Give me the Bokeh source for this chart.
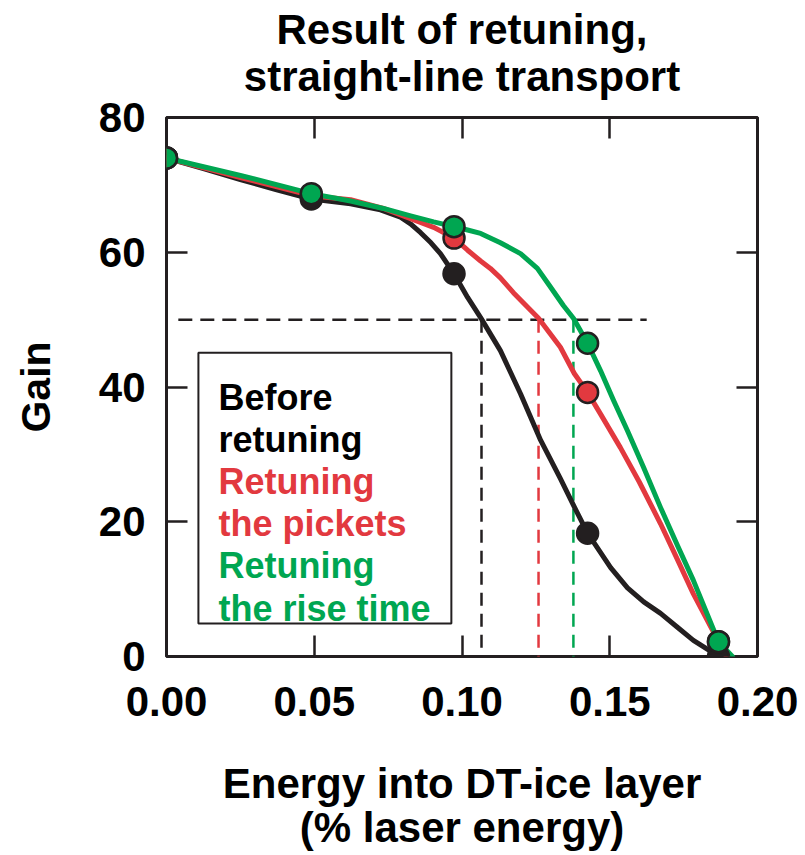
from bokeh.plotting import figure
from bokeh.models import (LinearAxis, FixedTicker, Label, BoxAnnotation, Range1d,
                          NumeralTickFormatter)
from bokeh.embed import file_html
from bokeh.resources import INLINE

# ---------------- data ----------------
energy_pts = [0.0, 0.049, 0.0973, 0.1425, 0.1868]
gain_before = [74.0, 67.9, 56.8, 18.3, 0.0]
gain_pickets = [74.0, 68.4, 62.1, 39.2, 2.2]
gain_risetime = [74.0, 68.7, 63.8, 46.5, 2.2]

# smooth curves
before_curve_x = [0.0, 0.0125, 0.025, 0.037, 0.049, 0.0623, 0.0724, 0.0792, 0.0826,
                  0.0860, 0.0895, 0.0927, 0.0973, 0.1019, 0.1063, 0.1130, 0.1198,
                  0.1266, 0.1333, 0.1380, 0.1425, 0.1503, 0.1560, 0.1615, 0.1672,
                  0.1730, 0.1783, 0.1830, 0.1868]
before_curve_y = [74.0, 72.4, 70.8, 69.3, 67.9, 67.2, 66.3, 65.2, 64.2,
                  62.9, 61.4, 59.8, 56.8, 53.3, 50.3, 45.4, 39.0,
                  32.1, 26.4, 22.2, 18.3, 13.2, 10.2, 8.1, 6.4,
                  4.3, 2.4, 1.1, 0.0]

pickets_curve_x = [0.0, 0.025, 0.049, 0.0623, 0.0734, 0.0826, 0.0904, 0.0973, 0.1019,
                   0.1063, 0.1096, 0.1130, 0.1174, 0.1259, 0.1333, 0.1380, 0.1425,
                   0.1470, 0.1536, 0.1600, 0.1672, 0.1730, 0.1783, 0.1868, 0.1895]
pickets_curve_y = [74.0, 71.1, 68.4, 67.8, 66.5, 65.0, 63.7, 62.1, 60.3,
                   58.7, 57.6, 56.2, 54.0, 50.2, 45.9, 42.0, 39.2,
                   35.9, 31.0, 25.9, 19.7, 14.3, 9.3, 2.2, 0.0]

risetime_curve_x = [0.0, 0.025, 0.049, 0.0623, 0.0734, 0.0826, 0.0904, 0.0973, 0.1019,
                    0.1063, 0.1130, 0.1198, 0.1255, 0.1300, 0.1343, 0.1377, 0.1425,
                    0.1469, 0.1513, 0.1560, 0.1615, 0.1672, 0.1730, 0.1783, 0.1868,
                    0.1915]
risetime_curve_y = [74.0, 71.4, 68.7, 67.6, 66.5, 65.4, 64.5, 63.8, 63.3,
                    62.8, 61.4, 59.8, 57.6, 54.8, 52.1, 50.2, 46.5,
                    42.4, 38.0, 33.5, 28.0, 22.1, 16.4, 11.3, 2.2,
                    0.0]

gain_threshold = 50
threshold_span = [0.004, 0.1625]
threshold_energy = [0.1066, 0.1259, 0.1377]   # before, pickets, rise time

x_ticks = [0.0, 0.05, 0.10, 0.15, 0.20]
y_ticks = [0, 20, 40, 60, 80]

title_lines = ["Result of retuning,", "straight-line transport"]
xlabel_lines = ["Energy into DT-ice layer", "(% laser energy)"]
ylabel = "Gain"
legend_lines = ["Before", "retuning", "Retuning", "the pickets", "Retuning", "the rise time"]

# ---------------- styling ----------------
BLACK = "#231f20"
RED = "#e2393f"
GREEN = "#00a651"
FONT = "Liberation Sans"

p = figure(frame_width=591, frame_height=539,
           x_range=Range1d(0, 0.2), y_range=Range1d(0, 80),
           output_backend="svg", toolbar_location=None, title_location=None,
           min_border_left=166, min_border_right=48,
           min_border_top=117, min_border_bottom=196,
           background_fill_color="white", border_fill_color="white")

p.grid.visible = False
p.outline_line_color = BLACK
p.outline_line_width = 3

bottom = p.below[0]
left = p.left[0]
bottom.ticker = FixedTicker(ticks=x_ticks)
left.ticker = FixedTicker(ticks=y_ticks)
bottom.formatter = NumeralTickFormatter(format="0.00")

top = LinearAxis(ticker=FixedTicker(ticks=x_ticks))
right = LinearAxis(ticker=FixedTicker(ticks=y_ticks))
p.add_layout(top, "above")
p.add_layout(right, "right")

for ax in [bottom, left, top, right]:
    ax.axis_line_color = None
    ax.major_tick_in = 21
    ax.major_tick_out = 0
    ax.major_tick_line_width = 2.5
    ax.major_tick_line_color = BLACK
    ax.minor_tick_line_color = None
    ax.major_label_text_font = FONT
    ax.major_label_text_font_style = "bold"
    ax.major_label_text_font_size = "42px"
    ax.major_label_text_color = "black"
    ax.axis_label_text_font = FONT
    ax.axis_label_text_font_style = "bold"
    ax.axis_label_text_color = "black"

for ax in [top, right]:
    ax.major_label_text_color = None
    ax.major_label_text_font_size = "0px"
    ax.major_label_standoff = 0

bottom.major_label_standoff = 30
left.major_label_standoff = 21

# y axis label
left.axis_label = ylabel
left.axis_label_text_font_size = "41px"
left.axis_label_standoff = 37

# title as the label of the top axis
top.axis_label = "\n".join(title_lines)
top.axis_label_text_font_size = "42px"
top.axis_label_text_line_height = 0.98
top.axis_label_standoff = 18

# x axis label (two lines)
bottom.axis_label = "\n".join(xlabel_lines)
bottom.axis_label_text_font_size = "42px"
bottom.axis_label_text_line_height = 0.95
bottom.axis_label_standoff = 41

# dashed guide lines
p.line(threshold_span, [gain_threshold, gain_threshold], line_color=BLACK,
       line_width=2.5, line_dash="14 8")
for xe, col in zip(threshold_energy, [BLACK, RED, GREEN]):
    p.line([xe, xe], [gain_threshold, -2], line_color=col, line_width=2.5,
           line_dash="13 8")

# curves
for cx, cy, col in [(before_curve_x, before_curve_y, BLACK),
                    (pickets_curve_x, pickets_curve_y, RED),
                    (risetime_curve_x, risetime_curve_y, GREEN)]:
    p.line(cx, cy, line_color=col, line_width=5, line_join="round", line_cap="round")

# markers
for gy, col in [(gain_before, BLACK), (gain_pickets, RED), (gain_risetime, GREEN)]:
    p.scatter(energy_pts, gy, size=21, fill_color=col, line_color=BLACK, line_width=2.5)

# legend box
p.add_layout(BoxAnnotation(left=0.0108, right=0.0964, top=45.1, bottom=4.9,
                           fill_color="white", fill_alpha=1.0,
                           line_color=BLACK, line_alpha=1.0, line_width=2))
leg_y = [38.44, 32.2, 25.97, 19.74, 13.5, 7.12]
leg_col = ["black", "black", RED, RED, GREEN, GREEN]
for txt, yy, col in zip(legend_lines, leg_y, leg_col):
    p.add_layout(Label(x=0.0176, y=yy, text=txt, text_color=col, text_font=FONT,
                       text_font_style="bold", text_font_size="36px",
                       text_baseline="alphabetic", text_align="left"))

open("out.html", "w").write(file_html(p, INLINE))
